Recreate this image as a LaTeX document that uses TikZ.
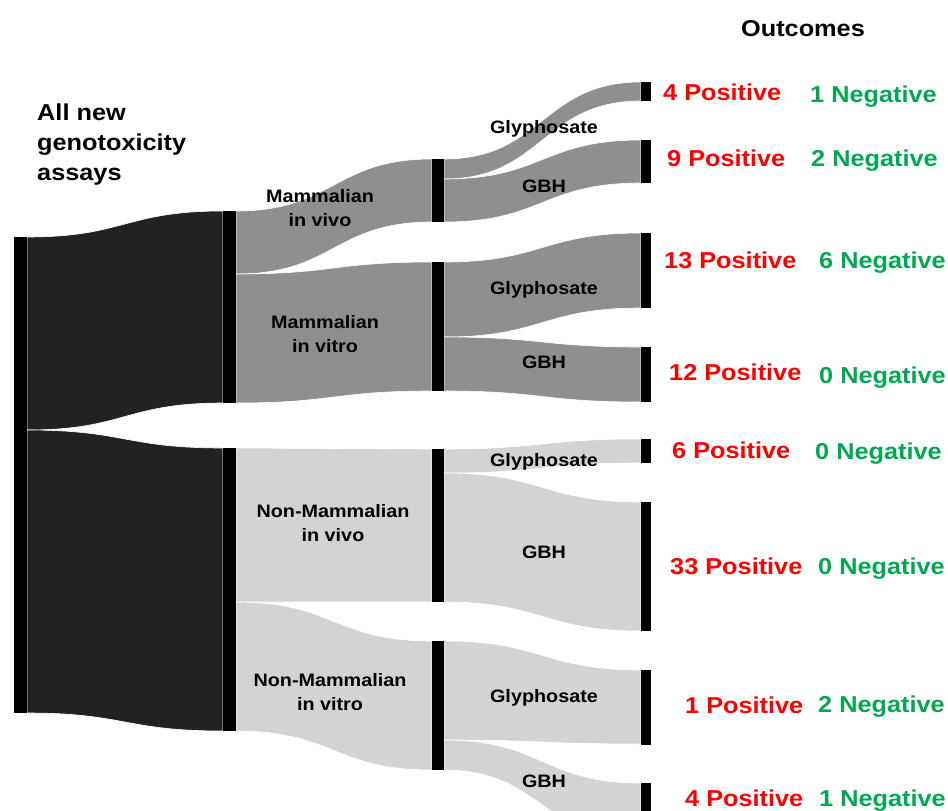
\documentclass[tikz,border=0pt]{standalone}
\usepackage{fontspec}
\setmainfont{Liberation Sans}[FakeStretch=1.1]
\definecolor{darkflow}{HTML}{222222}
\definecolor{midflow}{HTML}{8F8F8F}
\definecolor{lightflow}{HTML}{D3D3D3}
\definecolor{posred}{HTML}{FF0000}
\definecolor{neggreen}{HTML}{00A850}
\newcommand\sankeyflow[7]{%
  \fill[#1, draw=white, line width=0.6pt] (#2,#3)
    .. controls ({(#2+#5)/2},#3) and ({(#2+#5)/2},#6) .. (#5,#6)
    -- (#5,#7)
    .. controls ({(#2+#5)/2},#7) and ({(#2+#5)/2},#4) .. (#2,#4) -- cycle;}
\tikzset{
  bigtext/.style={font=\bfseries\fontsize{23}{30}\selectfont, inner sep=0pt},
  midtext/.style={font=\bfseries\fontsize{18}{24}\selectfont, inner sep=0pt, align=center},
  postext/.style={bigtext, text=posred, anchor=base west},
  negtext/.style={bigtext, text=neggreen, anchor=base west},
  barfill/.style={fill=black}
}
\begin{document}
\begin{tikzpicture}[x=1pt, y=-1pt]
\useasboundingbox (0,0) rectangle (948,811);
\clip (0,0) rectangle (948,811);
% level 0 -> 1
\sankeyflow{darkflow}{27}{237}{430}{223}{211}{403}
\sankeyflow{darkflow}{27}{430}{713}{223}{448}{731}
% level 1 -> 2
\sankeyflow{midflow}{236}{211}{274}{432}{159}{222}
\sankeyflow{midflow}{236}{274}{403}{432}{262}{391}
\sankeyflow{lightflow}{236}{448}{602}{432}{449}{602}
\sankeyflow{lightflow}{236}{602}{731}{432}{641}{770}
% level 2 -> 3
\sankeyflow{midflow}{444}{159}{179}{641}{82}{101}
\sankeyflow{midflow}{444}{179}{222}{641}{140}{183}
\sankeyflow{midflow}{444}{262}{337}{641}{233}{308}
\sankeyflow{midflow}{444}{337}{391}{641}{347}{402}
\sankeyflow{lightflow}{444}{449}{473}{641}{439}{463}
\sankeyflow{lightflow}{444}{473}{602}{641}{502}{631}
\sankeyflow{lightflow}{444}{641}{740}{641}{670}{744}
\sankeyflow{lightflow}{444}{740}{770}{641}{783}{840}
% bars
\fill[barfill] (14,237) rectangle (27,713);
\fill[barfill] (223,211) rectangle (236,403);
\fill[barfill] (223,448) rectangle (236,731);
\fill[barfill] (432,159) rectangle (444,222);
\fill[barfill] (432,262) rectangle (444,391);
\fill[barfill] (432,449) rectangle (444,602);
\fill[barfill] (432,641) rectangle (444,770);
\fill[barfill] (641,82) rectangle (651,101);
\fill[barfill] (641,140) rectangle (651,183);
\fill[barfill] (641,233) rectangle (651,308);
\fill[barfill] (641,347) rectangle (651,402);
\fill[barfill] (641,439) rectangle (651,463);
\fill[barfill] (641,502) rectangle (651,631);
\fill[barfill] (641,670) rectangle (651,745);
\fill[barfill] (641,783) rectangle (651,840);
% titles
\node[bigtext, align=left, anchor=north west] (title) at (37,103.5) {All new\\genotoxicity\\assays};
\node[bigtext, anchor=base] (outcomes) at (803,36) {Outcomes};
% level 1 labels
\node[midtext] (mivivo) at (320,208.5) {Mammalian\\in vivo};
\node[midtext] (mivitro) at (325,334.5) {Mammalian\\in vitro};
\node[midtext] (nmivivo) at (333,523.5) {Non-Mammalian\\in vivo};
\node[midtext] (nmivitro) at (330,692.5) {Non-Mammalian\\in vitro};
% level 2 labels
\node[midtext, anchor=base] (g1) at (544,133) {Glyphosate};
\node[midtext, anchor=base] (h1) at (544,192) {GBH};
\node[midtext, anchor=base] (g2) at (544,294) {Glyphosate};
\node[midtext, anchor=base] (h2) at (544,368) {GBH};
\node[midtext, anchor=base] (g3) at (544,466) {Glyphosate};
\node[midtext, anchor=base] (h3) at (544,558) {GBH};
\node[midtext, anchor=base] (g4) at (544,702) {Glyphosate};
\node[midtext, anchor=base] (h4) at (544,787) {GBH};
% outcomes
\node[postext] (p1) at (663,100) {4 Positive};
\node[negtext] (n1) at (810,102) {1 Negative};
\node[postext] (p2) at (667,166) {9 Positive};
\node[negtext] (n2) at (811,166) {2 Negative};
\node[postext] (p3) at (664,268) {13 Positive};
\node[negtext] (n3) at (819,268) {6 Negative};
\node[postext] (p4) at (669,380) {12 Positive};
\node[negtext] (n4) at (819,383) {0 Negative};
\node[postext] (p5) at (672,458) {6 Positive};
\node[negtext] (n5) at (815,459) {0 Negative};
\node[postext] (p6) at (670,574) {33 Positive};
\node[negtext] (n6) at (818,574) {0 Negative};
\node[postext] (p7) at (685,713) {1 Positive};
\node[negtext] (n7) at (818,712) {2 Negative};
\node[postext] (p8) at (685,806) {4 Positive};
\node[negtext] (n8) at (819,806) {1 Negative};
\end{tikzpicture}
\end{document}
